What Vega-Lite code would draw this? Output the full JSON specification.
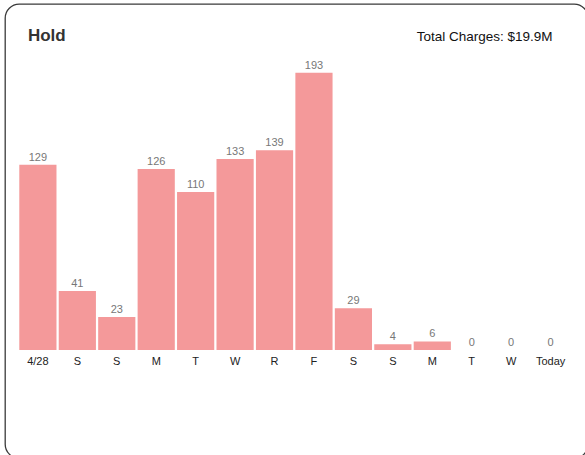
{
  "$schema": "https://vega.github.io/schema/vega-lite/v6.json",
  "width": 583,
  "height": 454,
  "autosize": {"type": "none"},
  "padding": {"left": 5, "top": 4, "right": -3, "bottom": -3},
  "background": "white",
  "view": {"stroke": "#3a3a3a", "strokeWidth": 1.3, "cornerRadius": 14, "fill": "white"},
  "config": {"font": "Liberation Sans"},
  "datasets": {
    "days": [
      {"date": "4/28", "label": "4/28", "holds": 129},
      {"date": "4/29", "label": "S", "holds": 41},
      {"date": "4/30", "label": "S", "holds": 23},
      {"date": "5/1", "label": "M", "holds": 126},
      {"date": "5/2", "label": "T", "holds": 110},
      {"date": "5/3", "label": "W", "holds": 133},
      {"date": "5/4", "label": "R", "holds": 139},
      {"date": "5/5", "label": "F", "holds": 193},
      {"date": "5/6", "label": "S", "holds": 29},
      {"date": "5/7", "label": "S", "holds": 4},
      {"date": "5/8", "label": "M", "holds": 6},
      {"date": "5/9", "label": "T", "holds": 0},
      {"date": "5/10", "label": "W", "holds": 0},
      {"date": "5/11", "label": "Today", "holds": 0}
    ],
    "header": [{"title": "Hold", "total": "Total Charges: $19.9M"}]
  },
  "layer": [
    {
      "data": {"name": "days"},
      "mark": {"type": "bar", "color": "#f4999a"},
      "encoding": {
        "x": {
          "field": "date",
          "type": "nominal",
          "sort": null,
          "scale": {
            "domain": ["4/28", "4/29", "4/30", "5/1", "5/2", "5/3", "5/4", "5/5", "5/6", "5/7", "5/8", "5/9", "5/10", "5/11"],
            "paddingInner": 0.057,
            "paddingOuter": 0.4195,
            "align": 0.432,
            "round": false
          },
          "axis": {
            "orient": "bottom",
            "offset": -108,
            "domain": false,
            "ticks": false,
            "tickSize": 0,
            "grid": false,
            "title": null,
            "labelAngle": 0,
            "labelPadding": 5,
            "labelFontSize": 11,
            "labelColor": "#222",
            "labelFont": "Liberation Sans",
            "labelExpr": "['4/28','S','S','M','T','W','R','F','S','S','M','T','W','Today'][indexof(['4/28','4/29','4/30','5/1','5/2','5/3','5/4','5/5','5/6','5/7','5/8','5/9','5/10','5/11'], datum.value)]"
          }
        },
        "y": {
          "field": "holds",
          "type": "quantitative",
          "scale": {"domain": [-75.16, 240.8], "nice": false, "zero": false},
          "axis": null
        },
        "y2": {"datum": 0}
      }
    },
    {
      "data": {"name": "days"},
      "mark": {"type": "text", "dy": -4, "baseline": "alphabetic", "fontSize": 11, "color": "#777", "font": "Liberation Sans"},
      "encoding": {
        "x": {"field": "date", "type": "nominal", "sort": null},
        "y": {"field": "holds", "type": "quantitative"},
        "text": {"field": "holds", "type": "quantitative"}
      }
    },
    {
      "data": {"name": "header"},
      "mark": {"type": "text", "align": "left", "dx": -10, "baseline": "alphabetic", "fontSize": 17, "fontWeight": "bold", "color": "#333", "font": "Liberation Sans"},
      "encoding": {
        "x": {"datum": "4/28"},
        "y": {"datum": 215},
        "text": {"field": "title"}
      }
    },
    {
      "data": {"name": "header"},
      "mark": {"type": "text", "align": "right", "dx": 2, "baseline": "alphabetic", "fontSize": 13.5, "color": "#111", "font": "Liberation Sans"},
      "encoding": {
        "x": {"datum": "5/11"},
        "y": {"datum": 215},
        "text": {"field": "total"}
      }
    }
  ]
}
